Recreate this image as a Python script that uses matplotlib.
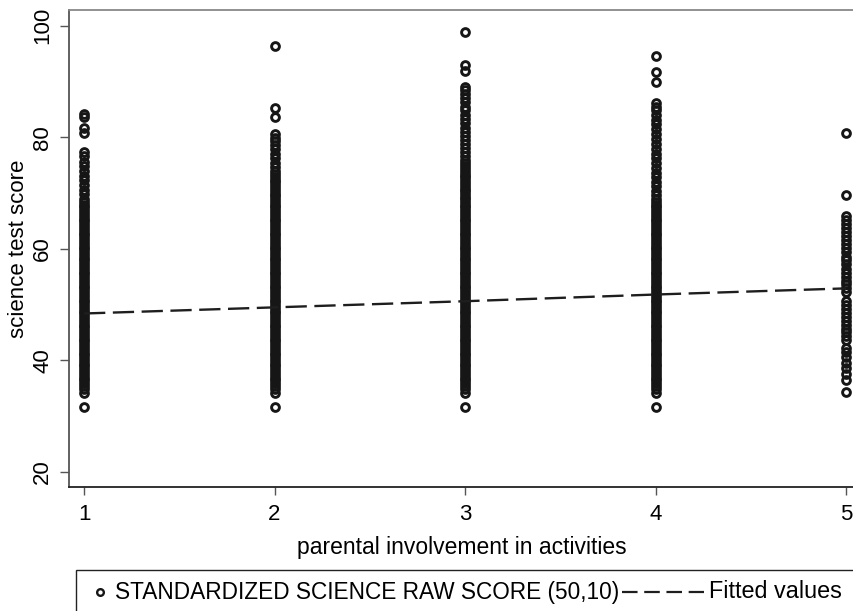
import matplotlib
matplotlib.use("Agg")
import matplotlib.pyplot as plt
from matplotlib.lines import Line2D
from matplotlib.patches import Rectangle

plt.rcParams['font.family'] = ['Liberation Sans', 'DejaVu Sans']

# scores seen in every group 1-4 (dense part of each column)
common_scores = [68.4, 67.9, 67.4, 66.9, 66.4, 65.9, 65.4, 64.9, 64.4, 63.9,
                 63.4, 62.9, 62.4, 61.9, 61.4, 60.9, 60.4, 59.9, 59.4, 58.9,
                 58.4, 57.9, 57.4, 56.9, 56.4, 55.9, 55.4, 54.9, 54.4, 53.9,
                 53.4, 52.9, 52.4, 51.9, 51.4, 50.9, 50.4, 49.9, 49.4, 48.9,
                 48.4, 47.9, 47.4, 46.9, 46.4, 45.9, 45.4, 44.9, 44.4, 43.9,
                 43.4, 42.9, 42.4, 41.9, 41.4, 40.9, 40.4, 39.9, 39.4, 38.9,
                 38.4, 37.9, 37.4, 36.9, 36.4, 35.9, 35.4, 34.9, 34.2, 31.6]

# extra scores per parental involvement level
extra_1 = [84.2, 83.6, 81.7, 80.7, 77.3, 76.6, 75.5, 74.8, 73.9, 73.0,
           72.3, 71.4, 70.6, 69.8, 69.0]
extra_2 = [96.4, 85.2, 83.6, 80.5, 79.9, 79.3, 78.6, 77.8, 77.0, 76.2,
           75.4, 74.7, 74.0, 73.4, 72.9, 72.4, 71.9, 71.4, 70.9, 70.4,
           69.9, 69.4, 68.9]
extra_3 = [98.8, 93.0, 91.9, 89.0, 88.4, 87.7, 87.0, 86.3, 85.5, 84.8,
           84.0, 83.3, 82.5, 81.7, 81.0, 80.2, 79.5, 78.8, 78.1, 77.4,
           76.7, 76.0, 75.4, 74.8, 74.3, 73.8, 73.3, 72.8, 72.3, 71.8,
           71.3, 70.8, 70.3, 69.8, 69.3, 68.9]
extra_4 = [94.6, 91.7, 89.9, 86.2, 85.5, 84.8, 84.0, 83.1, 82.3, 81.4,
           80.5, 79.7, 78.8, 77.9, 77.0, 76.2, 75.3, 74.4, 73.6, 72.8,
           72.0, 71.2, 70.4, 69.6, 68.9]
scores_5 = [80.7, 69.6, 65.8, 65.1, 64.4, 63.7, 63.0, 62.3, 61.6, 60.8,
            60.1, 59.4, 58.6, 57.9, 57.2, 56.4, 55.7, 55.0, 54.3, 53.6,
            52.9, 52.2, 50.6, 49.9, 49.2, 48.5, 47.8, 47.1, 46.4, 45.7,
            45.0, 44.3, 43.6, 42.2, 41.5, 40.6, 39.6, 38.6, 37.6, 36.4, 34.3]

fit_x = [1, 2, 3, 4, 5]
fit_y = [48.4, 49.5, 50.6, 51.8, 52.9]

groups = {1: common_scores + extra_1, 2: common_scores + extra_2,
          3: common_scores + extra_3, 4: common_scores + extra_4,
          5: scores_5}

fig = plt.figure(figsize=(8.54, 6.11), dpi=100)
ax = fig.add_axes([69/854, 124/611, 785/854, 477/611])

for lvl, ys in groups.items():
    ax.plot([lvl]*len(ys), ys, linestyle='none', marker='o', ms=5.6, mew=2.1,
            mfc='none', mec='#161616')
ax.plot(fit_x, fit_y, color='#1e1e1e', lw=1.7, dashes=(9, 3.2))

ax.set_xlim(0.921, 5.042)
ax.set_ylim(17.3, 102.8)
ax.set_xticks([1, 2, 3, 4, 5])
ax.set_yticks([20, 40, 60, 80, 100])
ax.tick_params(axis='y', length=6.5, width=1, color='#555555', pad=5, labelsize=16,
               labelrotation=90)
for lab in ax.get_yticklabels():
    lab.set_va('center')
ax.tick_params(axis='x', length=6, width=1, color='#555555', pad=6, labelsize=16)

ax.spines['right'].set_visible(False)
ax.spines['left'].set_color('#555555')
ax.spines['top'].set_color('#888888')
ax.spines['bottom'].set_color('#222222')
for s in ['left', 'top', 'bottom']:
    ax.spines[s].set_linewidth(1.3)

ax.set_ylabel('science test score', fontsize=16)
ax.yaxis.set_label_coords(-0.0637, 0.5)
ax.yaxis.label.set_va('center')
ax.set_xlabel('parental involvement in activities', fontsize=16.5)
ax.xaxis.set_label_coords(0.5, -0.126)
ax.xaxis.label.set_va('center')

# legend box drawn in figure pixels
def fx(px):
    return px / 854

def fy(py):
    return 1 - py / 611

fig.patches.append(Rectangle((fx(76), fy(625)), fx(820), fy(570) - fy(625),
                             transform=fig.transFigure, fill=False,
                             edgecolor='#222222', lw=1.0))
fig.lines.append(Line2D([fx(100)], [fy(592)], transform=fig.transFigure,
                        marker='o', ms=4.8, mew=1.7, mfc='none', mec='#161616'))
fig.text(fx(115), fy(592), 'STANDARDIZED SCIENCE RAW SCORE (50,10)',
         fontsize=16.3, va='center', ha='left')
fig.lines.append(Line2D([fx(622), fx(704)], [fy(592), fy(592)],
                        transform=fig.transFigure, color='#1e1e1e', lw=1.6,
                        dashes=(7.0, 3.0)))
fig.text(fx(709), fy(592), 'Fitted values', fontsize=16.8, va='center', ha='left')

fig.savefig('out.png', dpi=100)
